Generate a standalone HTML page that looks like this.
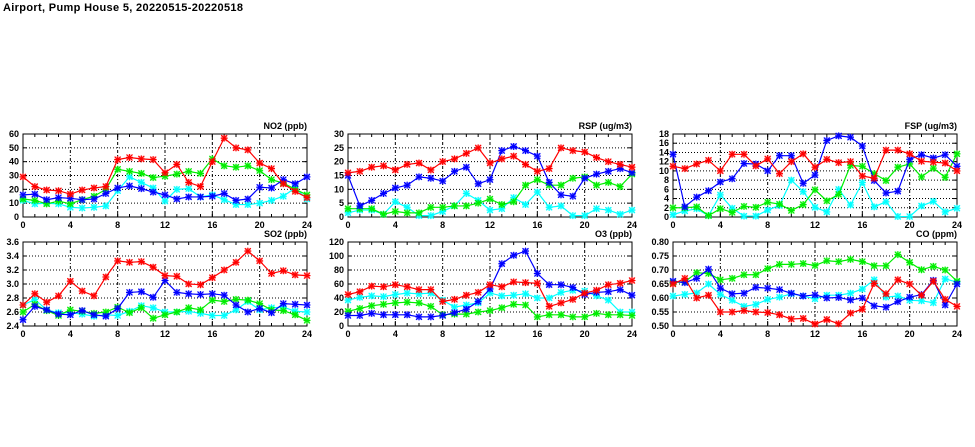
<!DOCTYPE html>
<html><head><meta charset="utf-8"><style>
html,body{margin:0;padding:0;background:#fff;width:975px;height:447px;overflow:hidden}
svg{display:block}
text{font-family:"Liberation Sans",sans-serif;font-weight:bold;font-size:9px;fill:#000}
</style></head><body>
<svg id="s" width="975" height="447" xmlns="http://www.w3.org/2000/svg">
<text x="3" y="11" style="font-size:11px" textLength="240">Airport, Pump House 5, 20220515-20220518</text>
</svg>
<script>
const NS="http://www.w3.org/2000/svg";const S=document.getElementById('s');
function el(t,a,p){const e=document.createElementNS(NS,t);for(const k in a)e.setAttribute(k,a[k]);(p||S).appendChild(e);return e;}
const C={r:'#f00',g:'#0e0',b:'#00f',c:'#0ff'};
const panels=[
{x0:23,x1:307,y0:134,y1:217,min:0,max:60,step:10,dec:0,title:'NO2 (ppb)',d:{
c:[12,9.5,10,9.5,7,6.5,7,8,19,29,25,21,11.5,20,20.5,14.5,16,12.5,9,9,10,12,15,21,13],
g:[13,12,9.5,11.5,9.5,12.5,15,20,34.5,33,31.5,28.5,29.5,31,33,31.5,42,37,36,37,33.5,27,24.5,20,16],
b:[16,16.5,12.5,14,13.5,12.5,13,17,21,22.5,20.5,18,16,13,14.5,14.5,15,17,12,13,21.5,21,27,24,29],
r:[29,22,19.5,19,16.5,19.5,21,22,41.5,43,42,41.5,32,38,25,22,40,57,50,48.5,39,35,24,18.5,14]}},
{x0:348,x1:632,y0:134,y1:217,min:0,max:30,step:5,dec:0,title:'RSP (ug/m3)',d:{
c:[1.5,2.5,2.5,1,5.5,3.5,0.5,0.5,2,4,8.5,6,2.5,3,7,4.5,9,3.5,4,0.5,0.5,3,2.5,1,2.5],
g:[3,3,3,1,2,1.5,1.5,3.5,3.5,4,4,5,6.5,4.5,5.5,11.5,13.5,11.5,11.5,14,14.5,11.5,12.5,11,15.5],
b:[15,4,6,8.5,10.5,11.5,14.5,14,13,16.5,18,12,13.5,24,25.5,24,22,12.5,8,7.5,14,15.5,16.5,17.5,16],
r:[16,16.5,18,18.5,17,19,19.5,17,20,21,23,25,19.5,21,22,19,16.5,17.5,25,24,23.5,21.5,20,19,18]}},
{x0:673,x1:957,y0:134,y1:217,min:0,max:18,step:2,dec:0,title:'FSP (ug/m3)',d:{
c:[0.5,1.3,1.8,0.3,4.8,1.9,0.2,0.2,1.5,2.5,8,5.5,2.1,1.1,6,2.6,7.5,2.2,3.3,0.1,0.1,2.4,3.4,1.1,1.9],
g:[2,2,2.2,0.3,1.8,1,2.3,2.1,3.2,2.8,1.4,2.7,5.9,3.5,4.9,11.2,11,9.4,7.9,10.8,11.5,8.7,10.6,8.6,13.7],
b:[13.6,2.2,4.3,5.7,7.6,8.3,11.6,11.5,10,13.3,13.3,7.3,9.1,16.6,17.6,17.3,15.4,7.9,5.2,5.6,12.5,13.5,12.8,13.5,11],
r:[11,10.5,11.5,12.3,10,13.6,13.6,11.1,12.6,9.4,12,13.7,10.8,12.5,11.8,12,8.9,8.4,14.5,14.5,13.7,12.1,11.9,11.7,10]}},
{x0:23,x1:307,y0:242,y1:326,min:2.4,max:3.6,step:0.2,dec:1,title:'SO2 (ppb)',d:{
c:[2.70,2.78,2.63,2.59,2.59,2.57,2.54,2.56,2.55,2.61,2.69,2.66,2.60,2.60,2.61,2.58,2.55,2.55,2.63,2.75,2.63,2.66,2.67,2.61,2.60],
g:[2.60,2.71,2.62,2.55,2.63,2.61,2.58,2.60,2.67,2.59,2.66,2.51,2.56,2.60,2.66,2.63,2.77,2.75,2.78,2.77,2.72,2.63,2.62,2.56,2.48],
b:[2.49,2.68,2.63,2.57,2.56,2.62,2.56,2.54,2.65,2.88,2.89,2.81,3.05,2.88,2.86,2.85,2.86,2.84,2.70,2.60,2.65,2.59,2.72,2.71,2.70],
r:[2.70,2.86,2.74,2.83,3.04,2.90,2.83,3.10,3.33,3.31,3.32,3.24,3.12,3.11,3.00,2.99,3.09,3.20,3.31,3.47,3.33,3.15,3.19,3.13,3.12]}},
{x0:348,x1:632,y0:242,y1:326,min:0,max:120,step:20,dec:0,title:'O3 (ppb)',d:{
c:[37,41,43,42,45,47,46,47,37,27,30,33,47,43,44,46,40,40,48,51,50,43,37,20,20],
g:[21,25,29,31,33,34,33,28,16,17,17,20,22,26,31,30,13,16,16,13,13,18,16,16,15],
b:[15,15,18,16,16,16,13,13,15,19,24,35,53,89,101,107,75,59,59,55,45,48,49,52,44],
r:[45,49,57,56,59,56,52,52,35,38,44,48,59,56,63,62,61,28,33,38,47,51,59,61,65]}},
{x0:673,x1:957,y0:242,y1:326,min:0.5,max:0.8,step:0.05,dec:2,title:'CO (ppm)',d:{
c:[.607,.613,.618,.65,.613,.592,.57,.577,.595,.603,.615,.607,.597,.61,.61,.617,.632,.665,.603,.607,.592,.59,.583,.668,.657],
g:[.655,.658,.69,.688,.665,.67,.683,.683,.705,.72,.72,.723,.716,.733,.73,.738,.73,.715,.715,.755,.727,.701,.713,.7,.66],
b:[.66,.655,.67,.703,.635,.615,.617,.638,.635,.63,.617,.607,.611,.6,.602,.593,.6,.572,.567,.587,.603,.612,.663,.575,.65],
r:[.65,.67,.60,.61,.55,.55,.555,.55,.548,.54,.525,.527,.507,.523,.508,.546,.56,.652,.615,.665,.65,.61,.66,.595,.57]}}
];
for(const p of panels){
 const X=h=>p.x0+(p.x1-p.x0)*h/24, Y=v=>p.y1-(p.y1-p.y0)*(v-p.min)/(p.max-p.min);
 const n=Math.round((p.max-p.min)/p.step);
 for(let i=0;i<=n;i++){const v=p.min+i*p.step,y=Y(v);
  if(i>0&&i<n)el('line',{x1:p.x0,x2:p.x1,y1:y,y2:y,stroke:'#000','stroke-width':1,'stroke-dasharray':'1,2'});
  el('line',{x1:p.x0,x2:p.x0+4,y1:y,y2:y,stroke:'#000'});el('line',{x1:p.x1-4,x2:p.x1,y1:y,y2:y,stroke:'#000'});
  const t=el('text',{x:p.x0-4,y:y+3,'text-anchor':'end'});t.textContent=v.toFixed(p.dec);}
 for(let h=0;h<=24;h++){const x=X(h);
  if(h%4==0&&h>0&&h<24)el('line',{x1:x,x2:x,y1:p.y0,y2:p.y1,stroke:'#000','stroke-dasharray':'3,2,1,2'});
  const L=h%4==0?5:3;
  el('line',{x1:x,x2:x,y1:p.y1,y2:p.y1-L,stroke:'#000'});el('line',{x1:x,x2:x,y1:p.y0,y2:p.y0+L,stroke:'#000'});
  if(h%4==0){const t=el('text',{x:x,y:p.y1+11,'text-anchor':'middle'});t.textContent=h;}}
 el('rect',{x:p.x0,y:p.y0,width:p.x1-p.x0,height:p.y1-p.y0,fill:'none',stroke:'#000'});
 const tt=el('text',{x:p.x1,y:p.y0-5,'text-anchor':'end'});tt.textContent=p.title;
 for(const k of ['c','g','b','r']){const d=p.d[k];
  el('polyline',{points:d.map((v,i)=>X(i)+','+Y(v)).join(' '),fill:'none',stroke:C[k],'stroke-width':1.2});
  for(let i=0;i<d.length;i++){const x=X(i),y=Y(d[i]);
   el('rect',{x:x-3,y:y-3,width:6,height:6,fill:C[k],'fill-opacity':0.35});
   el('path',{d:`M${x-3},${y-3}L${x+3},${y+3}M${x-3},${y+3}L${x+3},${y-3}M${x},${y-3.5}V${y+3.5}M${x-3.5},${y}H${x+3.5}`,stroke:C[k],'stroke-width':1.1});}}
}
</script>
</body></html>
